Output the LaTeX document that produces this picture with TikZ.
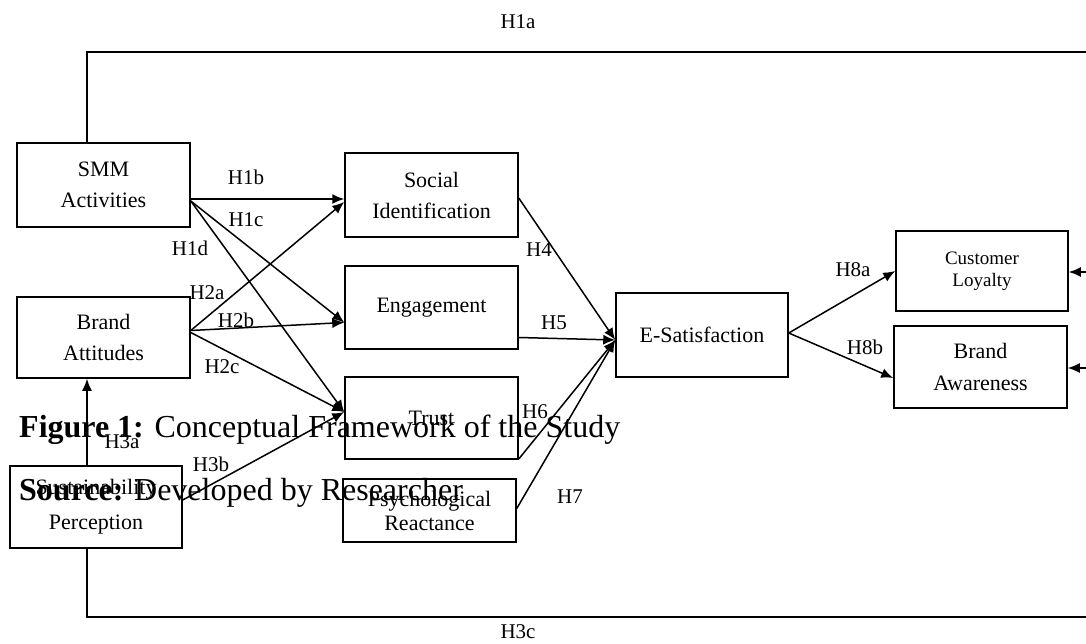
\documentclass[tikz,border=0pt]{standalone}
\usepackage{fontspec}
\setmainfont{Liberation Serif}
\usetikzlibrary{arrows.meta}
\begin{document}
\begin{tikzpicture}[x=1pt,y=-1pt,
  box/.style={draw, line width=1.5pt, inner sep=0pt, align=center, font=\fontsize{22}{31}\selectfont},
  lab/.style={font=\fontsize{21}{24}\selectfont, inner sep=0pt},
  arr/.style={line width=1.5pt, -{Latex[length=12pt,width=10pt]}},
  frame/.style={line width=1.9pt},
  capt/.style={anchor=base west, inner sep=0pt, font=\fontsize{32}{38}\selectfont}]
\useasboundingbox (0,0) rectangle (1086,644);

% boxes
\node[box, minimum width=173pt, minimum height=84pt] (smm) at (103.5,185) {SMM\\Activities};
\node[box, minimum width=173pt, minimum height=81pt] (ba) at (103.5,337.5) {Brand\\Attitudes};
\node[box, minimum width=172pt, minimum height=82pt, font=\fontsize{22}{35}\selectfont] (sp) at (96,507) {Sustainability\\Perception};
\node[box, minimum width=173pt, minimum height=84pt] (si) at (431.5,195) {Social\\Identification};
\node[box, minimum width=173pt, minimum height=83pt] (eng) at (431.5,307.5) {Engagement};
\node[box, minimum width=173pt, minimum height=82pt] (tr) at (431.5,418) {Trust};
\node[box, minimum width=173pt, minimum height=63pt, font=\fontsize{22}{24}\selectfont] (pr) at (429.5,510.5) {Psychological\\Reactance};
\node[box, minimum width=172pt, minimum height=84pt] (es) at (702,335) {E-Satisfaction};
\node[box, minimum width=172pt, minimum height=80pt, font=\fontsize{19}{22}\selectfont] (cl) at (982,271) {Customer\\Loyalty};
\node[box, minimum width=173pt, minimum height=82pt, font=\fontsize{22}{32}\selectfont] (baw) at (980.5,367) {Brand\\Awareness};

% frame lines (H1a, H3c)
\coordinate (topR) at (1086,52);
\coordinate (botR) at (1086,617);
\coordinate (clIn) at (1086,272);
\coordinate (baIn) at (1086,368);
\draw[frame] ([xshift=-16.5pt]smm.north) |- (topR);
\draw[frame] ([xshift=-9pt]sp.south) |- (botR);
\draw[arr] (clIn) -- (cl.east |- clIn);
\draw[arr] (baIn) -- (baw.east |- baIn);

% connectors
\draw[arr] ([yshift=-14pt]smm.east) -- ([yshift=-14pt]smm.east -| si.west);
\draw[arr] ([yshift=-16pt]smm.east) -- ([yshift=-15pt]eng.west);
\draw[arr] ([yshift=-16pt]smm.east) -- ([yshift=6pt]tr.west);
\draw[arr] ([yshift=7pt]ba.east) -- ([yshift=-7pt]si.west);
\draw[arr] ([yshift=7pt]ba.east) -- ([yshift=-15pt]eng.west);
\draw[arr] ([yshift=5pt]ba.east) -- ([yshift=6pt]tr.west);
\draw[arr] ([xshift=-9pt]sp.north) -- ([xshift=-16.5pt]ba.south);
\draw[arr] ([yshift=7pt]sp.east) -- ([yshift=6pt]tr.west);
\draw[arr] ([yshift=-3pt]si.east) -- ([yshift=-5pt]es.west);
\draw[arr] ([yshift=-30pt]eng.east) -- ([yshift=-5pt]es.west);
\draw[arr] ([yshift=-41pt]tr.east) -- ([yshift=-5pt]es.west);
\draw[arr] ([yshift=2pt]pr.east) -- ([yshift=-5pt]es.west);
\draw[arr] ([yshift=2pt]es.east) -- (cl.west);
\draw[arr] ([yshift=2pt]es.east) -- ([yshift=-11pt]baw.west);

% labels
\node[lab] (l1a) at (518,22) {H1a};
\node[lab] (l3c) at (518,632) {H3c};
\node[lab] (l1b) at (246,177) {H1b};
\node[lab] (l1c) at (246,220) {H1c};
\node[lab] (l1d) at (190,248) {H1d};
\node[lab] (l2a) at (207,293) {H2a};
\node[lab] (l2b) at (236,320) {H2b};
\node[lab] (l2c) at (222,367) {H2c};
\node[lab] (l3a) at (122,442) {H3a};
\node[lab] (l3b) at (211,464) {H3b};
\node[lab] (l4) at (539,250) {H4};
\node[lab] (l5) at (554,323) {H5};
\node[lab] (l6) at (535,412) {H6};
\node[lab] (l7) at (570,497) {H7};
\node[lab] (l8a) at (853,270) {H8a};
\node[lab] (l8b) at (865,347) {H8b};

% caption overlay
\node[capt] (cap1) at (19,437) {\textbf{Figure 1:} Conceptual Framework of the Study};
\node[capt] (cap2) at (19,500) {\textbf{Source:} Developed by Researcher};
\end{tikzpicture}
\end{document}
